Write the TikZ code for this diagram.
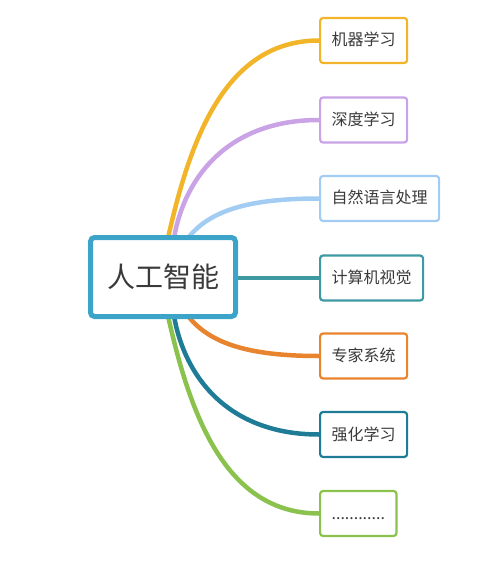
\documentclass[tikz,border=0pt]{standalone}
\usepackage{fontspec}
\setmainfont{Noto Sans CJK SC}
\definecolor{cY}{HTML}{F2B52A}
\definecolor{cP}{HTML}{C9A3E6}
\definecolor{cB}{HTML}{A3CCF2}
\definecolor{cT}{HTML}{3E9AA2}
\definecolor{cO}{HTML}{E8842E}
\definecolor{cD}{HTML}{1F7C96}
\definecolor{cG}{HTML}{8BC24E}
\definecolor{cC}{HTML}{3DA4C9}
\definecolor{txt}{HTML}{3A3A3A}
\pgfdeclarelayer{bg}
\pgfsetlayers{bg,main}
\begin{document}
\begin{tikzpicture}[x=1pt,y=-1pt,
  child/.style={draw, line width=2.2pt, rounded corners=3pt, fill=white,
    minimum height=45pt, inner xsep=11.5pt, inner ysep=0pt, anchor=west, text=txt,
    font=\fontsize{16}{16}\selectfont, text height=13pt, text depth=2pt},
  branch/.style={line width=4.5pt},
  root/.style={draw=cC, line width=5pt, rounded corners=4pt, fill=white,
    minimum width=145pt, minimum height=79pt, inner sep=0pt, text=txt,
    font=\fontsize{28}{28}\selectfont}]
\useasboundingbox (0,0) rectangle (500,561);
\node[root] (ai) at (163,277) {人工智能};
\node[child, draw=cY] (n1) at (319,40.5) {机器学习};
\node[child, draw=cP] (n2) at (319,120) {深度学习};
\node[child, draw=cB] (n3) at (319,198.5) {自然语言处理};
\node[child, draw=cT] (n4) at (319,278) {计算机视觉};
\node[child, draw=cO] (n5) at (319,356) {专家系统};
\node[child, draw=cD] (n6) at (319,434.5) {强化学习};
\node[child, draw=cG] (n7) at (319,513.5) {............};
\coordinate (sY) at (168,238);
\coordinate (sP) at (174,238);
\coordinate (sB) at (188,238);
\coordinate (sG) at (168,316);
\coordinate (sD) at (174,316);
\coordinate (sO) at (188,316);
\begin{pgfonlayer}{bg}
\draw[branch, cY] (sY) .. controls (190,140) and (225,40.5) .. (n1.west);
\draw[branch, cP] (sP) .. controls (185,175) and (230,120) .. (n2.west);
\draw[branch, cB] (sB) .. controls (210,210) and (250,198.5) .. (n3.west);
\draw[line width=4pt, cT] (ai.east |- n4.west) -- (n4.west);
\draw[branch, cO] (sO) .. controls (210,344) and (250,356) .. (n5.west);
\draw[branch, cD] (sD) .. controls (185,379) and (230,434.5) .. (n6.west);
\draw[branch, cG] (sG) .. controls (190,414) and (225,513.5) .. (n7.west);
\end{pgfonlayer}
\end{tikzpicture}
\end{document}
